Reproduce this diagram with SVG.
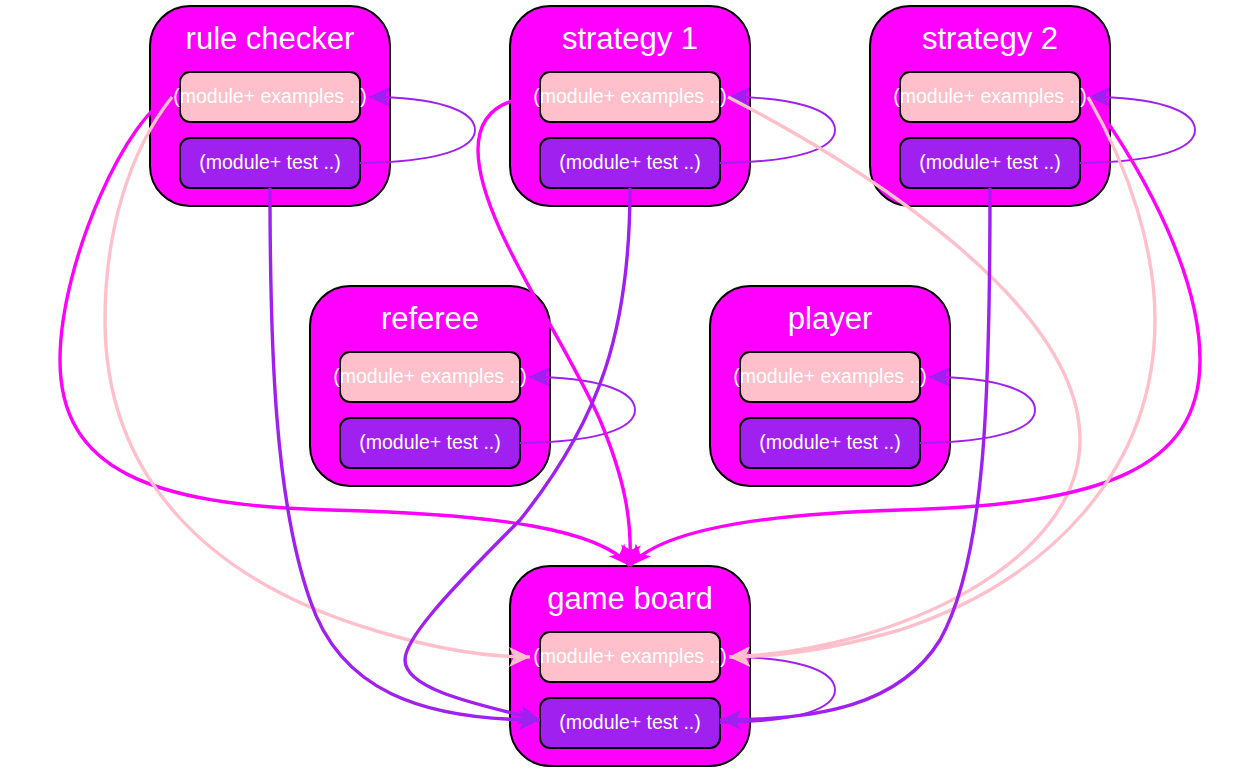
<svg xmlns="http://www.w3.org/2000/svg" width="1260" height="772" viewBox="0 0 1260 772">
<style>
.node{fill:#FF00FF;stroke:#000;stroke-width:2}
.ex{fill:#FFC0CB;stroke:#000;stroke-width:2}
.ts{fill:#A020F0;stroke:#000;stroke-width:2}
.title{font-family:"Liberation Sans",Arial,Helvetica,sans-serif;font-size:31px;fill:#fff;text-anchor:middle}
.lbl{font-family:"Liberation Sans",Arial,Helvetica,sans-serif;font-size:19.5px;fill:#fff;text-anchor:middle}
.e{fill:none;stroke-width:3.4}
.mg{stroke:#FF00FF;marker-end:url(#amg)}
.pk{stroke:#FFC0CB;marker-end:url(#apk)}
.pu{stroke:#A020F0;marker-end:url(#apu)}
.loop{fill:none;stroke:#A020F0;stroke-width:1.9;marker-end:url(#apu)}
</style>
<defs>
<marker id="amg" viewBox="-22 -11 24 22" markerWidth="24" markerHeight="22" refX="0" refY="0" orient="auto" markerUnits="userSpaceOnUse"><path d="M0,0 L-21,-10 L-16,0 L-21,10 z" fill="#FF00FF"/></marker>
<marker id="apk" viewBox="-22 -11 24 22" markerWidth="24" markerHeight="22" refX="0" refY="0" orient="auto" markerUnits="userSpaceOnUse"><path d="M0,0 L-21,-10 L-16,0 L-21,10 z" fill="#FFC0CB"/></marker>
<marker id="apu" viewBox="-22 -11 24 22" markerWidth="24" markerHeight="22" refX="0" refY="0" orient="auto" markerUnits="userSpaceOnUse"><path d="M0,0 L-21,-10 L-16,0 L-21,10 z" fill="#A020F0"/></marker>
</defs>
<rect width="1260" height="772" fill="#fff"/>

<g id="rule-checker">
<rect class="node" x="150" y="6" width="240" height="200" rx="40"/>
<text class="title" x="270" y="49">rule checker</text>
<rect class="ex" x="180" y="72" width="180" height="50" rx="10"/>
<text class="lbl" x="270" y="103">(module+ examples ..)</text>
<rect class="ts" x="180" y="138" width="180" height="50" rx="10"/>
<text class="lbl" x="270" y="169">(module+ test ..)</text>
</g>
<g id="strategy-1">
<rect class="node" x="510" y="6" width="240" height="200" rx="40"/>
<text class="title" x="630" y="49">strategy 1</text>
<rect class="ex" x="540" y="72" width="180" height="50" rx="10"/>
<text class="lbl" x="630" y="103">(module+ examples ..)</text>
<rect class="ts" x="540" y="138" width="180" height="50" rx="10"/>
<text class="lbl" x="630" y="169">(module+ test ..)</text>
</g>
<g id="strategy-2">
<rect class="node" x="870" y="6" width="240" height="200" rx="40"/>
<text class="title" x="990" y="49">strategy 2</text>
<rect class="ex" x="900" y="72" width="180" height="50" rx="10"/>
<text class="lbl" x="990" y="103">(module+ examples ..)</text>
<rect class="ts" x="900" y="138" width="180" height="50" rx="10"/>
<text class="lbl" x="990" y="169">(module+ test ..)</text>
</g>
<g id="referee">
<rect class="node" x="310" y="286" width="240" height="200" rx="40"/>
<text class="title" x="430" y="329">referee</text>
<rect class="ex" x="340" y="352" width="180" height="50" rx="10"/>
<text class="lbl" x="430" y="383">(module+ examples ..)</text>
<rect class="ts" x="340" y="418" width="180" height="50" rx="10"/>
<text class="lbl" x="430" y="449">(module+ test ..)</text>
</g>
<g id="player">
<rect class="node" x="710" y="286" width="240" height="200" rx="40"/>
<text class="title" x="830" y="329">player</text>
<rect class="ex" x="740" y="352" width="180" height="50" rx="10"/>
<text class="lbl" x="830" y="383">(module+ examples ..)</text>
<rect class="ts" x="740" y="418" width="180" height="50" rx="10"/>
<text class="lbl" x="830" y="449">(module+ test ..)</text>
</g>
<g id="game-board">
<rect class="node" x="510" y="566" width="240" height="200" rx="40"/>
<text class="title" x="630" y="609">game board</text>
<rect class="ex" x="540" y="632" width="180" height="50" rx="10"/>
<text class="lbl" x="630" y="663">(module+ examples ..)</text>
<rect class="ts" x="540" y="698" width="180" height="50" rx="10"/>
<text class="lbl" x="630" y="729">(module+ test ..)</text>
</g>

<g id="connectors">
<path class="loop" d="M360,163 C440,162 475,148 475,130 C475,110 435,97 369,97"/>
<path class="loop" d="M720,163 C800,162 835,148 835,130 C835,110 795,97 729,97"/>
<path class="loop" d="M1080,163 C1160,162 1195,148 1195,130 C1195,110 1155,97 1089,97"/>
<path class="loop" d="M520,443 C600,442 635,428 635,410 C635,390 595,377 529,377"/>
<path class="loop" d="M920,443 C1000,442 1035,428 1035,410 C1035,390 995,377 929,377"/>
<path class="loop" d="M720,723 C800,722 835,708 835,690 C835,670 795,657 729,657"/>

<path class="e mg" d="M172,97 C130,110 60,260 60,360 C60,470 150,505 330,510 C500,514 600,530 630,566"/>
<path class="e pk" d="M172,97 C130,150 105,230 105,320 C105,470 200,580 380,632 C440,650 490,657 530,657"/>
<path class="e pu" d="M270,188 C270,350 275,500 310,600 C340,690 420,720 540,720"/>

<path class="e mg" d="M532,97 C500,100 478,115 478,150 C478,220 560,330 600,420 C625,480 632,520 630,566"/>
<path class="e pk" d="M728,97 C850,160 1080,300 1080,440 C1080,560 900,650 729,657"/>
<path class="e pu" d="M630,188 C630,330 600,420 520,520 C440,600 405,640 405,660 C405,690 480,705 540,720"/>

<path class="e mg" d="M1090,97 C1150,180 1200,280 1200,360 C1200,470 1100,505 900,510 C760,514 660,530 630,566"/>
<path class="e pk" d="M1088,97 C1130,170 1155,250 1155,320 C1155,470 1050,580 900,630 C830,650 770,657 729,657"/>
<path class="e pu" d="M990,188 C990,400 985,560 940,640 C900,705 820,720 720,720"/>
</g>
</svg>
